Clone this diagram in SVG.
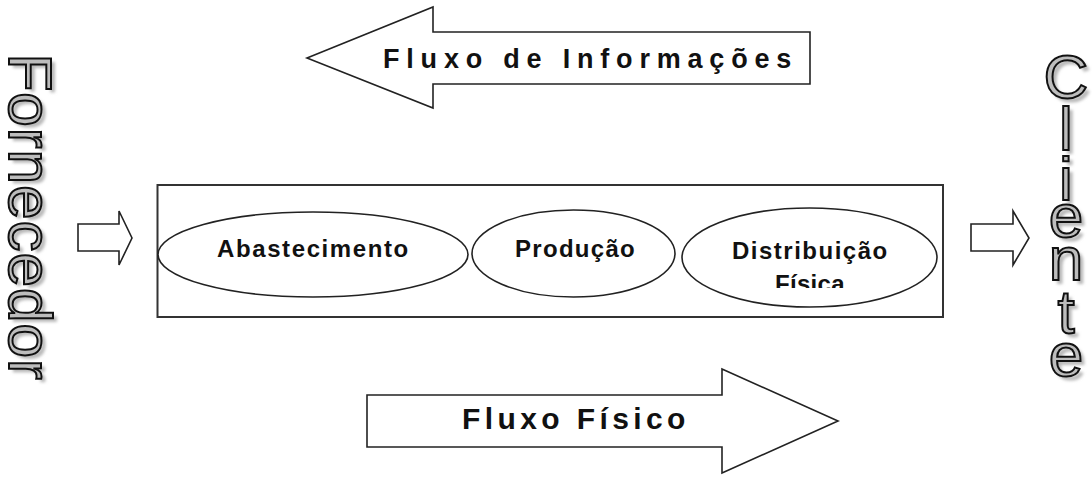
<svg xmlns="http://www.w3.org/2000/svg" width="1092" height="481" viewBox="0 0 1092 481">
<style>
.shape{fill:#fff;stroke:#222;stroke-width:1.6}
.box{fill:none;stroke:#333;stroke-width:2}
.lbl{font-family:"Liberation Sans",Arial,sans-serif;font-weight:bold;fill:#111}
.big{font-family:"Liberation Sans",Arial,sans-serif;font-size:62px}
.wordart{fill:#bdbdbd;stroke:#111;stroke-width:2}
.shadow{fill:#b8b8b8;stroke:none;filter:url(#blur)}
</style>
<defs>
<filter id="blur" x="-20%" y="-20%" width="140%" height="140%"><feGaussianBlur stdDeviation="1.5"/></filter>
<clipPath id="clipD"><rect x="650" y="200" width="300" height="88"/></clipPath>
</defs>
<rect width="1092" height="481" fill="#fff"/>

<g id="fornecedor">
<text class="big shadow" transform="translate(13,57) rotate(90)" letter-spacing="1">Fornecedor</text>
<text class="big wordart" transform="translate(9,53.5) rotate(90)" letter-spacing="1">Fornecedor</text>
</g>

<g id="cliente" text-anchor="middle">
<g class="big shadow" transform="translate(4,4)">
<text x="1066" y="98">C</text><text x="1066" y="150">l</text><text x="1066" y="200">i</text><text x="1066" y="237">e</text><text x="1066" y="280">n</text><text x="1066" y="333">t</text><text x="1066" y="376">e</text>
</g>
<g class="big wordart">
<text x="1066" y="98">C</text><text x="1066" y="150">l</text><text x="1066" y="200">i</text><text x="1066" y="237">e</text><text x="1066" y="280">n</text><text x="1066" y="333">t</text><text x="1066" y="376">e</text>
</g>
</g>

<g id="fluxo-informacoes">
<polygon class="shape" points="307,58 433,7 433,32 810,32 810,84 433,84 433,108"/>
<text class="lbl" x="383" y="68" font-size="27" letter-spacing="6.8">Fluxo de Informações</text>
</g>

<g id="fluxo-fisico">
<polygon class="shape" points="367,395 722,395 722,369 838,421 722,473 722,447 367,447"/>
<text class="lbl" x="462" y="429" font-size="30" letter-spacing="4.4">Fluxo Físico</text>
</g>

<g id="processo">
<rect class="box" x="157.5" y="185" width="785.5" height="132"/>
</g>

<g id="abastecimento">
<ellipse class="shape" cx="313" cy="254.5" rx="155" ry="42.5"/>
<text class="lbl" x="217" y="256.5" font-size="24" letter-spacing="1.6">Abastecimento</text>
</g>

<g id="producao">
<ellipse class="shape" cx="573.5" cy="253.5" rx="101.5" ry="43.5"/>
<text class="lbl" x="515" y="257" font-size="24" letter-spacing="1.3">Produção</text>
</g>

<g id="distribuicao">
<ellipse class="shape" cx="809.5" cy="257.5" rx="127.5" ry="49.5"/>
<text class="lbl" x="732" y="258.5" font-size="24" letter-spacing="1.5">Distribuição</text>
<text class="lbl" x="775" y="292" font-size="24" letter-spacing="0.3" clip-path="url(#clipD)">Física</text>
</g>

<g id="connectors">
<polygon class="shape" points="78,224 119,224 119,211 132,238 119,265 119,251 78,251"/>
<polygon class="shape" points="971,224 1013,224 1013,211 1029,238 1013,265 1013,251 971,251"/>
</g>
</svg>
